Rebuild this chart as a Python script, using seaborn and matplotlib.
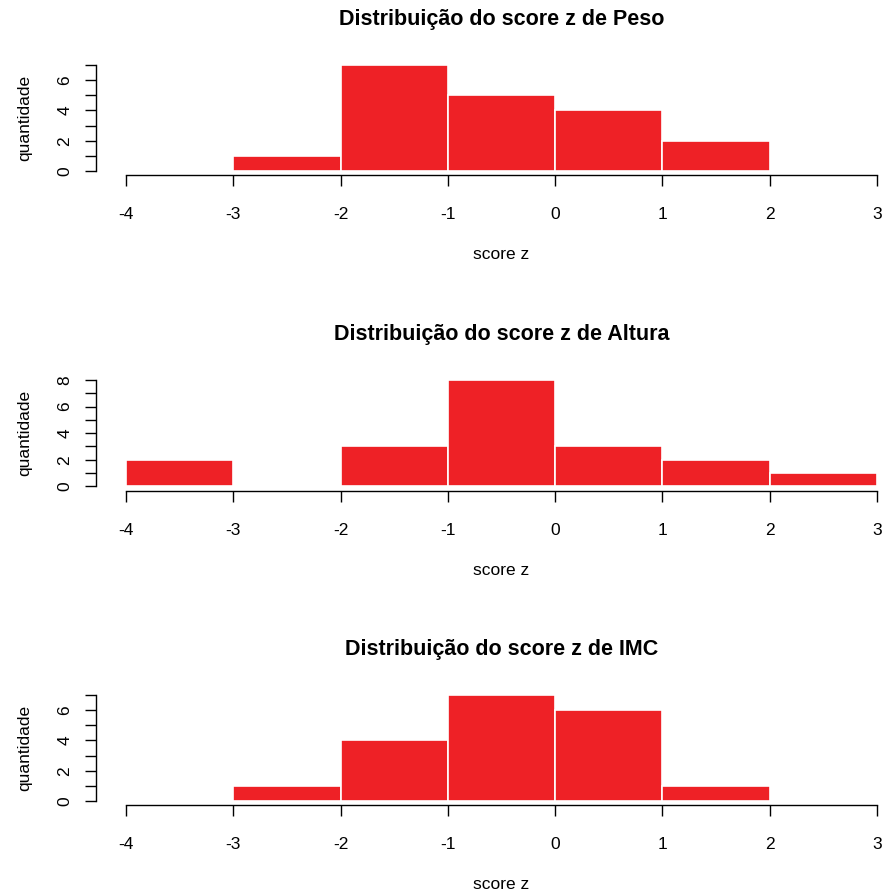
import matplotlib
matplotlib.use("Agg")
import matplotlib.pyplot as plt
import seaborn as sns
import numpy as np

sns.set_style("white")
plt.rcParams['font.family'] = ['Liberation Sans', 'DejaVu Sans']
plt.rcParams['text.color'] = 'black'
plt.rcParams['axes.labelcolor'] = 'black'
plt.rcParams['xtick.color'] = 'black'
plt.rcParams['ytick.color'] = 'black'

bin_edges = [-4, -3, -2, -1, 0, 1, 2, 3]
bin_centers = [-3.5, -2.5, -1.5, -0.5, 0.5, 1.5, 2.5]
peso_counts = [0, 1, 7, 5, 4, 2, 0]
altura_counts = [2, 0, 3, 8, 3, 2, 1]
imc_counts = [0, 1, 4, 7, 6, 1, 0]
titles = ["Distribuição do score z de Peso",
          "Distribuição do score z de Altura",
          "Distribuição do score z de IMC"]
x_ticks = [-4, -3, -2, -1, 0, 1, 2, 3]

W, H = 885, 893
fig = plt.figure(figsize=(W / 100, H / 100), dpi=100)

# pixel boxes (top, bottom)
boxes = [(60.8, 175.2), (375.8, 490.6), (690.8, 805.2)]
left_px, right_px = 96, 907
data = [peso_counts, altura_counts, imc_counts]
ymaxes = [7, 8, 7]

for counts, title, (top, bot), ymax in zip(data, titles, boxes, ymaxes):
    ax = fig.add_axes([left_px / W, 1 - bot / H, (right_px - left_px) / W, (bot - top) / H])
    sns.histplot(x=bin_centers, weights=counts, bins=bin_edges, ax=ax,
                 color="#EE2126", alpha=1, edgecolor="white", linewidth=1.2)
    pad_y = 0.04 * ymax
    ax.set_xlim(-4.28, 3.28)
    ax.set_ylim(-pad_y, ymax + pad_y)
    for s in ["top", "right"]:
        ax.spines[s].set_visible(False)
    ax.spines["left"].set_bounds(0, ymax)
    ax.spines["bottom"].set_bounds(-4, 3)
    for s in ["left", "bottom"]:
        ax.spines[s].set_color("black")
        ax.spines[s].set_linewidth(1.0)
    ax.set_xticks(x_ticks)
    ax.set_xticklabels([str(t) for t in x_ticks])
    yt = list(range(0, ymax + 1))
    ax.set_yticks(yt)
    ax.set_yticklabels([str(t) if t % 2 == 0 else "" for t in yt], rotation=90, va="center")
    ax.tick_params(axis="both", which="major", length=8, width=1.0, color="black",
                   labelsize=12.5, direction="out", bottom=True, left=True)
    ax.tick_params(axis="x", pad=15)
    ax.tick_params(axis="y", pad=9)
    ax.set_xlabel("score z", fontsize=12.5, labelpad=18)
    ax.set_ylabel("quantidade", fontsize=12.5, labelpad=18)
    ax.set_title(title, fontsize=15.5, fontweight="bold", pad=26)

fig.savefig("out.png", dpi=100)
